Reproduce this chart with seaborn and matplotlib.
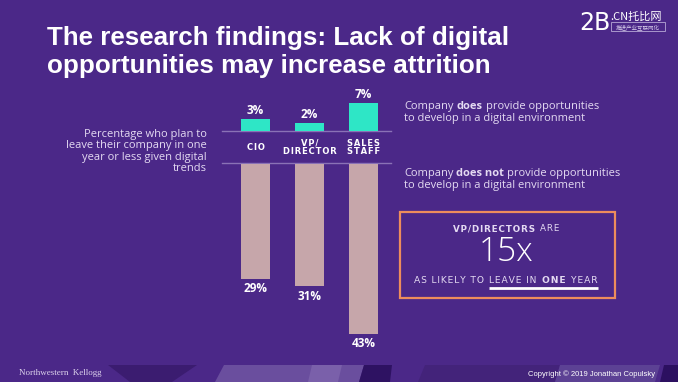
"""
Slide recreation: lack of digital opportunities vs attrition
"""
import matplotlib
matplotlib.use("Agg")
import matplotlib.pyplot as plt
import seaborn as sns
import pandas as pd
from matplotlib.patches import Rectangle, Polygon

# data
categories = ["CIO", "VP/\nDIRECTOR", "SALES\nSTAFF"]
does_provide = [3, 2, 7]
does_not_provide = [29, 31, 43]

title_lines = ["The research findings: Lack of digital",
               "opportunities may increase attrition"]
left_note = "Percentage who plan to\nleave their company in one\nyear or less given digital\ntrends"

BG = "#4B2888"
TEAL = "#2EE6C6"
PINK = "#C6A6AA"
LAV = "#E4DAF2"
LINE = "#8A72B6"
ORANGE = "#EE8D5C"

W, H = 678, 382
fig = plt.figure(figsize=(W / 100, H / 100), dpi=100, facecolor=BG)

# background axes in pixel coords (y down)
bg = fig.add_axes([0, 0, 1, 1])
bg.set_xlim(0, W)
bg.set_ylim(H, 0)
bg.axis("off")
bg.add_patch(Rectangle((0, 0), W, H, color=BG, zorder=0))


def px_axes(left, top, right, bottom):
    return fig.add_axes([left / W, (H - bottom) / H, (right - left) / W, (bottom - top) / H])


def spaced(s):
    # hair space between letters to mimic tracking
    return "\n".join("\u200a".join(line) for line in s.split("\n"))


# footer decoration
footer = [
    ([(108, 365), (197, 365), (172, 382), (130, 382)], "#3B1C70"),
    ([(224, 365), (364, 365), (359, 382), (215, 382)], "#6A4E9E"),
    ([(312, 365), (342, 365), (338, 382), (308, 382)], "#7A60AA"),
    ([(364, 365), (392, 365), (390, 382), (359, 382)], "#2E1262"),
    ([(425, 365), (560, 365), (555, 382), (418, 382)], "#43237A"),
    ([(560, 365), (660, 365), (655, 382), (555, 382)], "#5C4194"),
    ([(664, 365), (678, 365), (678, 382), (660, 382)], "#2C1060"),
]
for pts, c in footer:
    bg.add_patch(Polygon(pts, closed=True, color=c, lw=0, zorder=1))

label_kw = dict(color="white", fontsize=8.5, fontweight="bold", family="Open Sans")

# top bars (company does provide)
df_top = pd.DataFrame({"role": categories, "pct": does_provide})
ax_top = px_axes(228.5, 90.7, 390.5, 130.5)
sns.barplot(data=df_top, x="role", y="pct", color=TEAL, width=0.54,
            saturation=1, ax=ax_top)
ax_top.set_ylim(0, 10)
ax_top.set_xlim(-0.5, 2.5)
ax_top.bar_label(ax_top.containers[0], labels=[f"{v}%" for v in does_provide],
                 padding=1, **label_kw)
ax_top.axis("off")

# bottom bars (company does not provide)
df_bot = pd.DataFrame({"role": categories, "pct": does_not_provide})
ax_bot = px_axes(228.5, 164.5, 390.5, 341.5)
sns.barplot(data=df_bot, x="role", y="pct", color=PINK, width=0.54,
            saturation=1, ax=ax_bot)
ax_bot.set_ylim(45, 0)
ax_bot.set_xlim(-0.5, 2.5)
ax_bot.bar_label(ax_bot.containers[0], labels=[f"{v}%" for v in does_not_provide],
                 padding=2.5, **label_kw)
ax_bot.axis("off")

# baselines
bg.plot([222, 391], [130.7, 130.7], color=LINE, lw=1, zorder=3)
bg.plot([222, 391], [163.3, 163.3], color=LINE, lw=1, zorder=3)

# category labels between the two baselines
for i, cat in enumerate(categories):
    cx = 255.5 + i * 54
    bg.text(cx, 147.5, spaced(cat), ha="center", va="center", color="white",
            fontsize=6, fontweight="bold", family="DejaVu Sans",
            linespacing=1.0)

# title
for i, line in enumerate(title_lines):
    bg.text(47, 45 + i * 28.5, line, ha="left", va="baseline", color="white",
            fontsize=18.7, fontweight="bold", family="Liberation Sans")

# left note
bg.text(207, 129, left_note, ha="right", va="top", color=LAV, fontsize=8,
        family="Open Sans", linespacing=1.05)

renderer = fig.canvas.get_renderer()


def draw_runs(x, y, runs, ha="left", gap=3.0, **kw):
    """Draw consecutive text runs with different weights on one baseline."""
    texts, widths = [], []
    for s, w in runs:
        t = bg.text(0, 0, s, fontweight=w, va="baseline", ha="left", **kw)
        texts.append(t)
        widths.append(t.get_window_extent(renderer).width)
    total = sum(widths) + gap * (len(runs) - 1)
    cur = x - total / 2 if ha == "center" else x
    spans = []
    for t, w in zip(texts, widths):
        t.set_position((cur, y))
        spans.append((cur, cur + w))
        cur += w + gap
    return spans


txt_kw = dict(color=LAV, fontsize=8, family="Open Sans")
draw_runs(404, 109, [("Company", "normal"), ("does", "bold"),
                     ("provide opportunities", "normal")], **txt_kw)
draw_runs(404, 121, [("to develop in a digital environment", "normal")], **txt_kw)
draw_runs(404, 176, [("Company", "normal"), ("does not", "bold"),
                     ("provide opportunities", "normal")], **txt_kw)
draw_runs(404, 188, [("to develop in a digital environment", "normal")], **txt_kw)

# callout box
bg.add_patch(Rectangle((400, 212), 215, 86, fill=False, edgecolor=ORANGE,
                       lw=1.6, zorder=3))
box_kw = dict(color=LAV, family="DejaVu Sans")
draw_runs(506, 231, [(spaced("VP/DIRECTORS"), "bold"), (spaced("ARE"), "normal")],
          ha="center", gap=5, fontsize=6.3, **box_kw)
bg.text(506, 252, "15x", ha="center", va="center", color="white",
        fontsize=24, family="Open Sans", fontweight="light")
spans = draw_runs(506, 283, [(spaced("AS LIKELY TO"), "normal"),
                             (spaced("LEAVE IN"), "normal"),
                             (spaced("ONE"), "bold"), (spaced("YEAR"), "normal")],
                  ha="center", gap=5.5, fontsize=6.6, **box_kw)
bg.plot([spans[1][0], spans[3][1]], [287.5, 287.5], color="white", lw=2,
        solid_capstyle="butt", zorder=3)

# logo
bg.text(579, 30, "2B", ha="left", va="baseline", color="white", fontsize=17,
        family="DejaVu Sans")
bg.text(610, 19.5, ".CN托比网", ha="left", va="baseline", color="white",
        fontsize=8, family=["Noto Sans CJK SC", "DejaVu Sans"])
bg.add_patch(Rectangle((611, 22), 54, 9, fill=False, edgecolor="#B7A8D6",
                       lw=0.6, zorder=3))
bg.text(638, 26.8, "推进产业互联网化", ha="center", va="center", color="#D6CCEA",
        fontsize=4, family=["Noto Sans CJK SC", "DejaVu Sans"])

# footer texts
bg.text(19, 375, "Northwestern  Kellogg", ha="left", va="baseline",
        color="#DCD2EC", fontsize=6.5, family="Liberation Serif")
bg.text(528, 376, "Copyright © 2019 Jonathan Copulsky", ha="left",
        va="baseline", color="white", fontsize=5.5, family="Liberation Sans")

fig.savefig("out.png", dpi=100, facecolor=BG)
